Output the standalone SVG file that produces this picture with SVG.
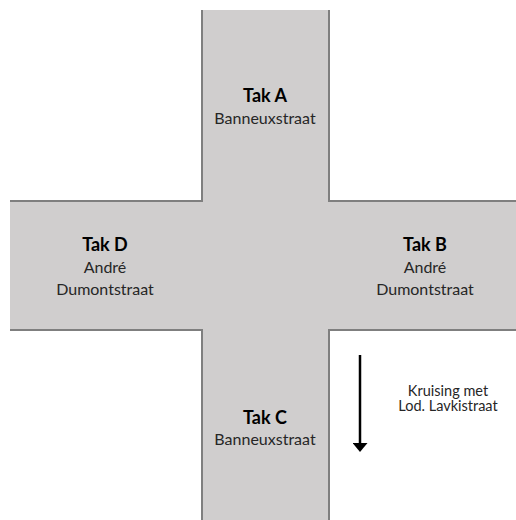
<svg xmlns="http://www.w3.org/2000/svg" width="516" height="520" viewBox="0 0 516 520">
<defs>
<style>
.road{fill:#d0cece;stroke:none}
.edge{fill:none;stroke:#7f7f7f;stroke-width:2}
.t{font-family:Lato,"Liberation Sans",sans-serif;text-anchor:middle;fill:#262626}
.b{font-weight:bold;font-size:18px;fill:#000}
.r{font-size:16px}
.s{font-size:14.5px}
</style>
<marker id="ah" viewBox="0 0 9 15" refX="0" refY="7.5" markerWidth="9" markerHeight="15" markerUnits="userSpaceOnUse" orient="auto">
<path d="M0,0 L9,7.5 L0,15 Z" fill="#000"/>
</marker>
</defs>
<rect width="516" height="520" fill="#fff"/>
<g id="road">
<rect class="road" x="202" y="10" width="127" height="510"/>
<rect class="road" x="10" y="201" width="506" height="129"/>
<path class="edge" d="M10,201 H202 V10 M329,10 V201 H516 M516,330 H329 V520 M202,520 V330 H10"/>
</g>
<g id="tak-a">
<text class="t b" x="265" y="102">Tak A</text>
<text class="t r" x="265" y="124">Banneuxstraat</text>
</g>
<g id="tak-b">
<text class="t b" x="425" y="251">Tak B</text>
<text class="t r" x="425" y="273">André</text>
<text class="t r" x="425" y="295">Dumontstraat</text>
</g>
<g id="tak-c">
<text class="t b" x="265" y="424">Tak C</text>
<text class="t r" x="265" y="445">Banneuxstraat</text>
</g>
<g id="tak-d">
<text class="t b" x="105" y="251">Tak D</text>
<text class="t r" x="105" y="273">André</text>
<text class="t r" x="105" y="295">Dumontstraat</text>
</g>
<g id="note">
<text class="t s" x="448" y="395.5">Kruising met</text>
<text class="t s" x="448" y="411">Lod. Lavkistraat</text>
</g>
<g id="connectors">
<line x1="360" y1="355" x2="360" y2="443" stroke="#000" stroke-width="2.5" marker-end="url(#ah)"/>
</g>
</svg>
